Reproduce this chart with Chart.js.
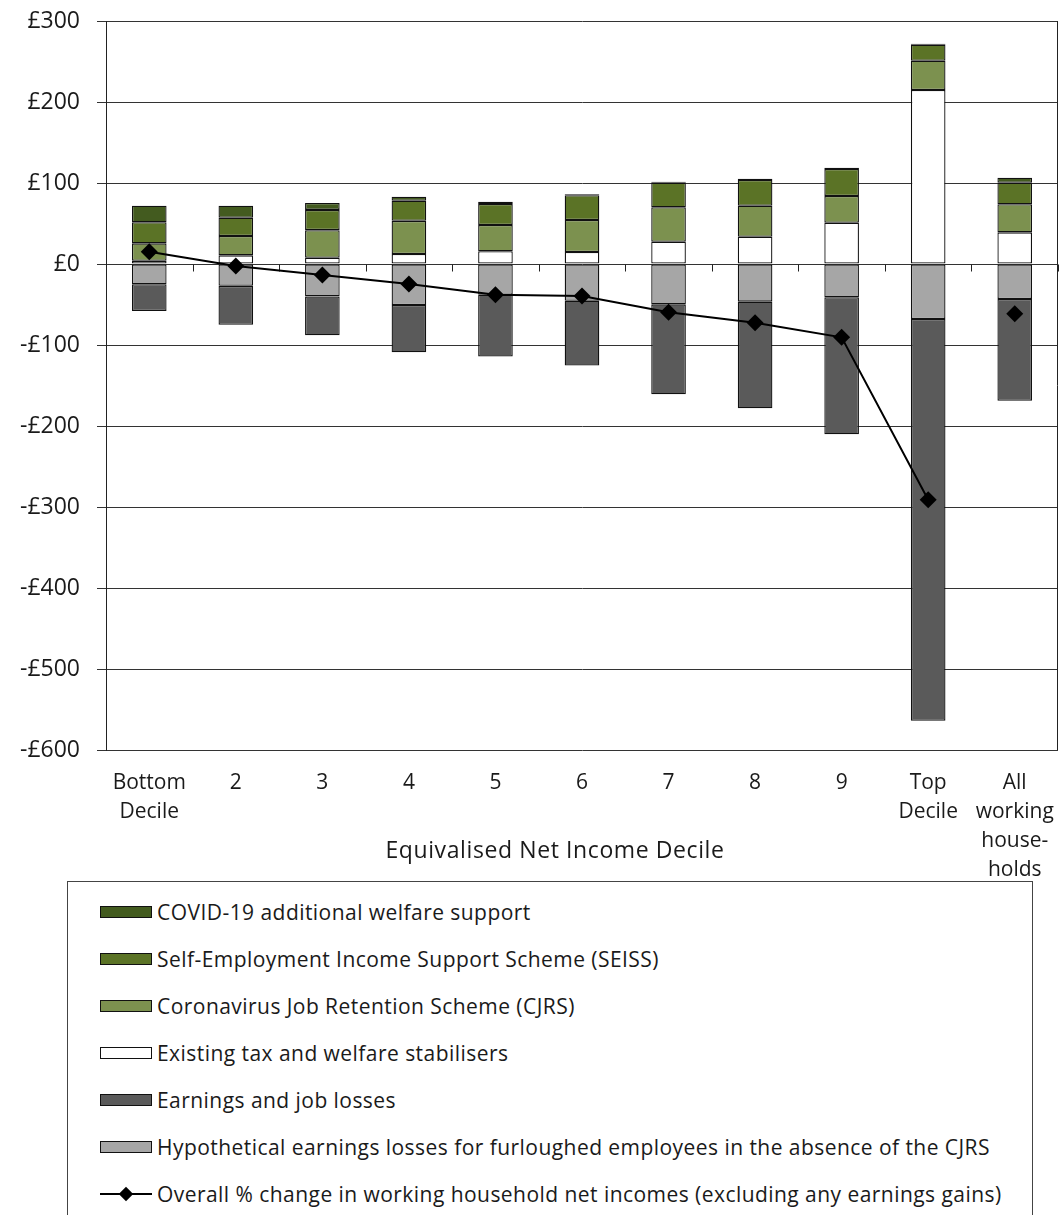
<!DOCTYPE html>
<html>
<head>
<meta charset="utf-8">
<script src="https://cdn.jsdelivr.net/npm/chart.js@4/dist/chart.umd.min.js"></script>
<style>
  html, body { margin: 0; padding: 0; background: #fff; }
  body { width: 1061px; height: 1215px; position: relative; overflow: hidden; font-family: "Open Sans", "Noto Sans", sans-serif; color: #1a1a1a; }
  #wrap { position: absolute; left: 0; top: 0; width: 1061px; height: 880px; }
  #legend { position: absolute; left: 67px; top: 881px; width: 966px; height: 400px; border: 1px solid #444; box-sizing: border-box; }
  .item { position: absolute; left: 32px; height: 30px; line-height: 30px; font-size: 21px; letter-spacing: 0.45px; white-space: nowrap; }
  .sw { position: absolute; left: 0; top: 9px; width: 52px; height: 12px; box-sizing: border-box; border: 1px solid #111; }
  .lab { position: absolute; left: 57px; top: 0; }
  .ln { position: absolute; left: 0; top: 14px; width: 52px; height: 2px; background: #000; }
  .dm { position: absolute; left: 20px; top: 9px; width: 12px; height: 12px; background: #000; transform: rotate(45deg) scale(0.85); }
</style>
</head>
<body>
<div id="wrap"><canvas id="c" width="1061" height="880"></canvas></div>
<div id="legend"></div>
<script>
// Categories (income deciles)
const categories = [['Bottom', 'Decile'], '2', '3', '4', '5', '6', '7', '8', '9', ['Top', 'Decile'], ['All', 'working', 'house-', 'holds']];

// Series values, £ per week
const covidSupport   = [20.5, 14.8, 8.6, 5.0, 2.8, 1.0, 1.0, 1.6, 1.6, 1.2, 6.2];
const seiss          = [26.0, 22.6, 25.0, 24.7, 26.0, 30.7, 30.4, 31.7, 33.3, 19.8, 26.7];
const cjrs           = [21.5, 23.8, 34.0, 41.0, 32.5, 39.5, 42.5, 38.3, 33.0, 36.2, 34.6];
const stabilisers    = [4.0, 10.7, 7.8, 12.3, 15.7, 14.8, 27.5, 33.7, 51.0, 214.8, 39.1];
const earningsLosses = [-33.0, -48.0, -48.0, -58.4, -76.2, -80.0, -111.0, -131.6, -169.0, -495.9, -125.6];
const hypothetical   = [-25.0, -27.0, -40.0, -50.6, -38.0, -45.3, -49.8, -46.5, -41.1, -67.9, -43.2];
const overallChange  = [15.0, -2.5, -13.6, -24.7, -38.0, -39.5, -59.6, -72.5, -90.5, -291.0, -61.4];

// Y axis tick values
const yTicks = [300, 200, 100, 0, -100, -200, -300, -400, -500, -600];

const FONT = '"Open Sans", "Noto Sans", sans-serif';
const INK = '#1a1a1a';
const EDGE = '#111111';

const colors = {
  covid: '#435b1f',
  seiss: '#5b7326',
  cjrs: '#7c914f',
  stab: '#ffffff',
  earn: '#5a5a5a',
  hyp: '#a6a6a6'
};

function barSet(label, data, color) {
  return {
    type: 'bar', label, data, backgroundColor: color, borderColor: EDGE,
    borderWidth: 1.3, borderSkipped: false, stack: 's', order: 1,
    barPercentage: 0.4, categoryPercentage: 1
  };
}

const datasets = [
  {
    type: 'line', label: 'Overall % change in working household net incomes (excluding any earnings gains)',
    data: overallChange, borderColor: '#000', backgroundColor: '#000', borderWidth: 2,
    pointStyle: 'rectRot', pointRadius: 8.5, pointHoverRadius: 8.5, pointBorderWidth: 0,
    tension: 0, order: 0, stack: 'line',
    segment: { borderColor: ctx => ctx.p1DataIndex === categories.length - 1 ? 'rgba(0,0,0,0)' : '#000' }
  },
  barSet('Existing tax and welfare stabilisers', stabilisers, colors.stab),
  barSet('Coronavirus Job Retention Scheme (CJRS)', cjrs, colors.cjrs),
  barSet('Self-Employment Income Support Scheme (SEISS)', seiss, colors.seiss),
  barSet('COVID-19 additional welfare support', covidSupport, colors.covid),
  barSet('Hypothetical earnings losses for furloughed employees in the absence of the CJRS', hypothetical, colors.hyp),
  barSet('Earnings and job losses', earningsLosses, colors.earn)
];

// Frame, category tick marks on the zero line and the x-axis title
const decor = {
  id: 'decor',
  beforeDatasetsDraw(chart) {
    const { ctx, chartArea: a, scales: { x, y } } = chart;
    const y0 = Math.round(y.getPixelForValue(0)) + 0.5;
    ctx.save();
    ctx.strokeStyle = '#222';
    ctx.lineWidth = 1;
    ctx.beginPath();
    for (let i = 0; i <= categories.length; i++) {
      let px;
      if (i === 0) px = a.left;
      else if (i === categories.length) px = a.right;
      else px = (x.getPixelForValue(i - 1) + x.getPixelForValue(i)) / 2;
      px = Math.round(px) + 0.5;
      ctx.moveTo(px, y0);
      ctx.lineTo(px, y0 + 7);
    }
    ctx.stroke();
    ctx.beginPath();
    ctx.moveTo(Math.round(a.right) - 0.5, a.top);
    ctx.lineTo(Math.round(a.right) - 0.5, a.bottom);
    ctx.stroke();
    ctx.restore();
  },
  afterDraw(chart) {
    const { ctx } = chart;
    ctx.save();
    ctx.fillStyle = INK;
    ctx.font = '23px ' + FONT;
    if ('letterSpacing' in ctx) ctx.letterSpacing = '0.6px';
    ctx.textAlign = 'center';
    ctx.textBaseline = 'middle';
    ctx.fillText('Equivalised Net Income Decile', 555, 851);
    ctx.restore();
  }
};

new Chart(document.getElementById('c'), {
  data: { labels: categories, datasets },
  options: {
    responsive: false,
    animation: false,
    events: [],
    layout: { autoPadding: false, padding: { top: 21, right: 3, left: 0, bottom: 0 } },
    plugins: { legend: { display: false }, tooltip: { enabled: false } },
    scales: {
      x: {
        stacked: true,
        offset: true,
        grid: { display: true, drawOnChartArea: false, drawTicks: false, offset: true, color: 'rgba(0,0,0,0)' },
        border: { display: false },
        ticks: { color: INK, font: { family: FONT, size: 21, lineHeight: 1.38 }, padding: 19, maxRotation: 0, autoSkip: false },
        afterFit(s) { s.height = 130; s.paddingLeft = 0; s.paddingRight = 0; }
      },
      y: {
        stacked: true,
        min: Math.min(...yTicks),
        max: Math.max(...yTicks),
        afterBuildTicks(s) { s.ticks = yTicks.map(v => ({ value: v })); },
        grid: { color: '#333', lineWidth: 1, tickLength: 9, drawTicks: true },
        border: { display: true, color: '#222', width: 1 },
        ticks: {
          color: INK, font: { family: FONT, size: 23 }, padding: 17,
          callback: v => (v < 0 ? '-£' + Math.abs(v) : '£' + v)
        },
        afterFit(s) { s.width = 106; s.paddingTop = 0; s.paddingBottom = 0; }
      }
    }
  },
  plugins: [decor]
});

// Legend listing, in the same order as the drawn key
const legendItems = [
  { text: 'COVID-19 additional welfare support', color: colors.covid },
  { text: 'Self-Employment Income Support Scheme (SEISS)', color: colors.seiss },
  { text: 'Coronavirus Job Retention Scheme (CJRS)', color: colors.cjrs },
  { text: 'Existing tax and welfare stabilisers', color: colors.stab },
  { text: 'Earnings and job losses', color: colors.earn },
  { text: 'Hypothetical earnings losses for furloughed employees in the absence of the CJRS', color: colors.hyp },
  { text: 'Overall % change in working household net incomes (excluding any earnings gains)', line: true }
];
const legend = document.getElementById('legend');
legendItems.forEach((it, i) => {
  const d = document.createElement('div');
  d.className = 'item';
  d.style.top = (15 + i * 47) + 'px';
  if (it.line) {
    d.innerHTML = '<div class="ln"></div><div class="dm"></div>';
  } else {
    d.innerHTML = '<div class="sw" style="background:' + it.color + '"></div>';
  }
  const t = document.createElement('span');
  t.className = 'lab';
  t.textContent = it.text;
  d.appendChild(t);
  legend.appendChild(d);
});
</script>
</body>
</html>
